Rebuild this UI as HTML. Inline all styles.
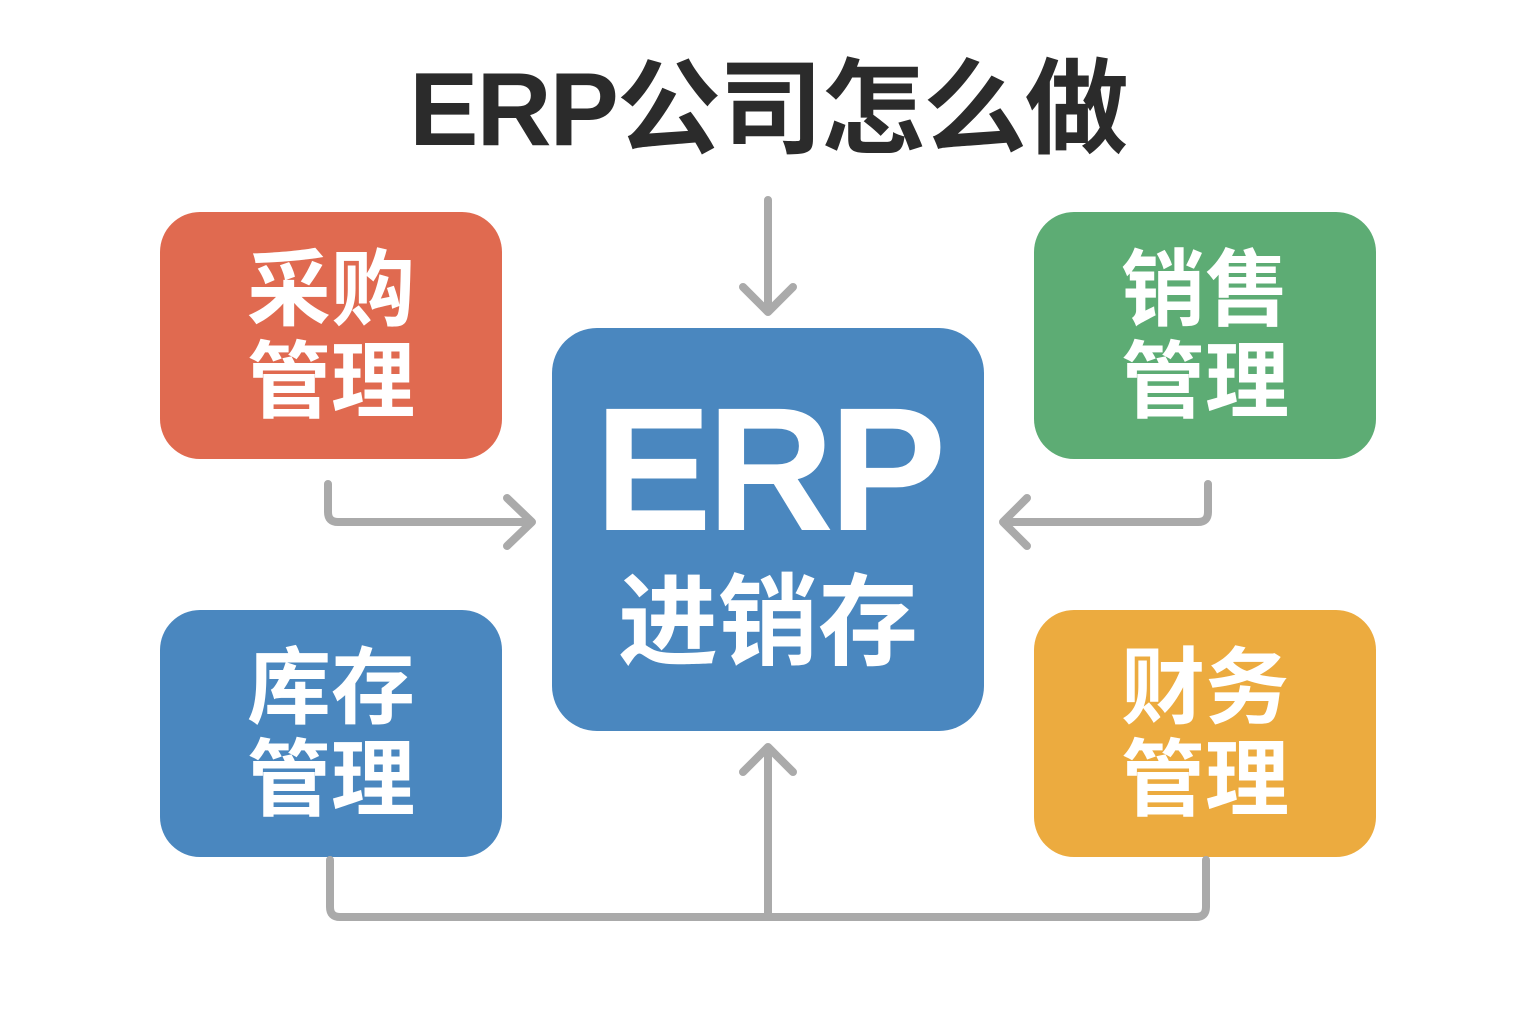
<!DOCTYPE html>
<html><head><meta charset="utf-8"><style>
body{margin:0;width:1536px;height:1024px;background:#fff;position:relative;overflow:hidden;font-family:"Liberation Sans","Noto Sans CJK SC",sans-serif;}
.t{position:absolute;left:0;width:1536px;top:50px;text-align:center;font-size:104px;font-weight:bold;color:#2b2b2b;line-height:120px;letter-spacing:-2px}
.b{position:absolute;width:342px;height:247px;border-radius:40px;color:#fff;font-weight:bold;font-size:84px;line-height:92px;text-align:center;display:flex;align-items:center;justify-content:center;flex-direction:column}
.c{position:absolute;left:552px;top:328px;width:432px;height:403px;border-radius:45px;background:#4a87bf;color:#fff;font-weight:bold;text-align:center}
svg{position:absolute;left:0;top:0}
</style></head><body>
<div class="t">ERP公司怎么做</div>
<div class="b" style="left:160px;top:212px;background:#e06a50"><div>采购</div><div>管理</div></div>
<div class="b" style="left:1034px;top:212px;background:#5dac74"><div>销售</div><div>管理</div></div>
<div class="b" style="left:160px;top:610px;background:#4a87bf"><div>库存</div><div>管理</div></div>
<div class="b" style="left:1034px;top:610px;background:#ecab3f"><div>财务</div><div>管理</div></div>
<div class="c"><div style="font-size:176px;line-height:180px;margin-top:52px;letter-spacing:-5px">ERP</div><div style="font-size:100px;line-height:110px;margin-top:8px">进销存</div></div>
<svg width="1536" height="1024" fill="none" stroke="#aaaaaa" stroke-width="8" stroke-linecap="round" stroke-linejoin="round">
<path d="M768 200V310M743 287L768 312L793 287"/>
<path d="M328 484V512Q328 522 338 522H530M507 498L532 522L507 546"/>
<path d="M1208 484V512Q1208 522 1198 522H1004M1027 498L1003 522L1027 546"/>
<path d="M330 860V907Q330 917 340 917H1196Q1206 917 1206 907V860M768 917V748M743 772L768 747L793 772"/>
</svg>
</body></html>
